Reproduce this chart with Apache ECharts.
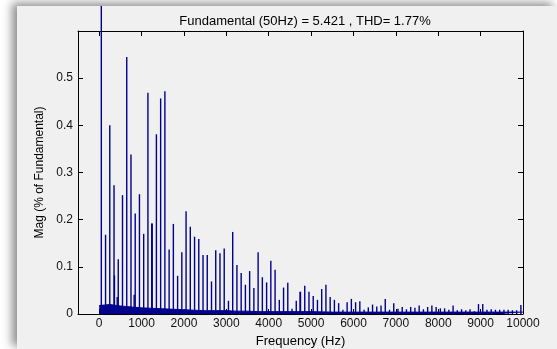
<!DOCTYPE html>
<html>
<head>
<meta charset="utf-8">
<script src="https://cdn.jsdelivr.net/npm/echarts@6/dist/echarts.min.js"></script>
<style>
  html, body { margin: 0; padding: 0; background: #fff; overflow: hidden; }
  .panel {
    position: absolute; left: 17px; top: 6px; width: 540px; height: 343px;
    background: #f0f0f0;
    box-shadow: -5px -3px 9px rgba(0, 0, 0, 0.45);
  }
  #chart { width: 540px; height: 343px; }
</style>
</head>
<body>
<div class="panel"><div id="chart"></div></div>
<script>
// harmonic spikes (Hz, % of fundamental)
const harmonicHz = [
  50, 150, 250, 350, 360, 425, 450, 550, 650, 750, 825, 850, 950, 1050, 1150, 1240, 1250,
  1350, 1450, 1550, 1650, 1750, 1850, 1950, 2050, 2150, 2250, 2350, 2450, 2550, 2650,
  2750, 2850, 2950, 3050, 3150, 3250, 3350, 3450, 3550, 3650, 3750, 3850, 3950, 4050,
  4150, 4250, 4350, 4450, 4550, 4650, 4740, 4750, 4850, 4950, 5050, 5150, 5250, 5350,
  5450, 5550, 5650, 5750, 5850, 5950, 6050, 6150, 6250, 6350, 6450, 6550, 6650, 6750,
  6850, 6950, 7050, 7150, 7250, 7350, 7450, 7550, 7650, 7750, 7850, 7950, 8050, 8150,
  8250, 8350, 8450, 8550, 8650, 8750, 8850, 8950, 9050, 9150, 9250, 9350, 9450, 9550,
  9650, 9750, 9850, 9950
]
const harmonicMag = [
  100, 0.168, 0.400, 0.273, 0.082, 0.036, 0.116, 0.252, 0.545, 0.338, 0.041, 0.213, 0.254, 0.170, 0.469, 0.192, 0.192,
  0.381, 0.457, 0.472, 0.137, 0.191, 0.081, 0.131, 0.218, 0.185, 0.164, 0.159, 0.125, 0.125, 0.069,
  0.135, 0.129, 0.139, 0.028, 0.174, 0.104, 0.087, 0.062, 0.091, 0.055, 0.131, 0.078, 0.067, 0.113,
  0.094, 0.030, 0.056, 0.066, 0.011, 0.028, 0.047, 0.047, 0.060, 0.047, 0.038, 0.030, 0.053, 0.062,
  0.036, 0.030, 0.023, 0.009, 0.025, 0.032, 0.025, 0.027, 0.009, 0.014, 0.020, 0.016, 0.018, 0.032,
  0.009, 0.023, 0.011, 0.015, 0.010, 0.015, 0.013, 0.018, 0.010, 0.015, 0.018, 0.015, 0.012, 0.012,
  0.009, 0.018, 0.008, 0.010, 0.008, 0.010, 0.006, 0.021, 0.021, 0.009, 0.010, 0.009, 0.009, 0.009,
  0.009, 0.008, 0.008, 0.019
]

// noise floor between the spikes
const floorHz = [
  0, 250, 500, 750, 1000, 1250, 1500, 1750, 2000, 2250, 2500, 2750, 3000, 3250, 3500, 3750, 4000,
  4250, 4500, 4750, 5000, 5500, 6000, 6500, 7000, 7500, 8000, 8500, 9000, 9500, 10000
]
const floorMag = [
  0.018, 0.020, 0.017, 0.015, 0.013, 0.012, 0.011, 0.010, 0.009, 0.008, 0.007, 0.007, 0.007, 0.006, 0.006, 0.005, 0.005,
  0.005, 0.005, 0.005, 0.005, 0.004, 0.004, 0.004, 0.004, 0.004, 0.004, 0.004, 0.004, 0.004, 0.004
]

const xTicks = [0, 1000, 2000, 3000, 4000, 5000, 6000, 7000, 8000, 9000, 10000]
const yTicks = [0, 0.1, 0.2, 0.3, 0.4, 0.5, 0.6]
const yLabels = ['0', '0.1', '0.2', '0.3', '0.4', '0.5', '']

const barColor = '#00008f'
const font = 'Liberation Sans, Arial, sans-serif'

const chart = echarts.init(document.getElementById('chart'))

const xBase = {
  type: 'value',
  min: -500,
  max: 10000,
  splitLine: { show: false },
  axisLine: { onZero: false, lineStyle: { color: '#000', width: 1 } },
  axisTick: { inside: true, length: 5, customValues: xTicks, lineStyle: { color: '#000' } }
}
const yBase = {
  type: 'value',
  min: 0,
  max: 0.6,
  splitLine: { show: false },
  axisLine: { show: true, onZero: false, lineStyle: { color: '#000', width: 1 } },
  axisTick: { show: true, inside: true, length: 5, customValues: yTicks, lineStyle: { color: '#000' } }
}

chart.setOption({
  animation: false,
  title: {
    text: 'Fundamental (50Hz) = 5.421 , THD= 1.77%',
    left: 283,
    top: 4,
    textAlign: 'center',
    textStyle: { fontFamily: font, fontSize: 13, fontWeight: 'normal', color: '#000' }
  },
  grid: { left: 61, right: 34, top: 25, bottom: 35, containLabel: false, outerBoundsMode: 'none' },
  xAxis: [
    {
      ...xBase,
      position: 'bottom',
      name: 'Frequency (Hz)',
      nameLocation: 'middle',
      nameGap: 19,
      nameTextStyle: { fontFamily: font, fontSize: 13, color: '#000', verticalAlign: 'top' },
      axisLabel: {
        customValues: xTicks, margin: 4, fontFamily: font, fontSize: 12, color: '#111',
        formatter: v => String(v)
      }
    },
    {
      ...xBase,
      position: 'top',
      axisLabel: { show: false }
    }
  ],
  yAxis: [
    {
      ...yBase,
      position: 'left',
      name: 'Mag (% of Fundamental)',
      nameLocation: 'middle',
      nameGap: 29,
      nameTextStyle: { fontFamily: font, fontSize: 12, color: '#000' },
      axisLabel: {
        customValues: yTicks,
        margin: 5,
        fontFamily: font,
        fontSize: 12,
        color: '#111',
        formatter: v => yLabels[yTicks.findIndex(t => Math.abs(t - v) < 1e-9)] ?? ''
      }
    },
    {
      ...yBase,
      position: 'right',
      axisLabel: { show: false }
    }
  ],
  series: [
    {
      type: 'line',
      data: floorHz.map((f, i) => [f, floorMag[i]]),
      showSymbol: false,
      lineStyle: { color: barColor, width: 1 },
      areaStyle: { color: barColor, opacity: 1 },
      z: 1
    },
    {
      type: 'bar',
      data: harmonicHz.map((f, i) => [f, harmonicMag[i]]),
      barWidth: 1.4,
      clip: false,
      itemStyle: { color: barColor },
      z: 2
    }
  ]
})
</script>
</body>
</html>
